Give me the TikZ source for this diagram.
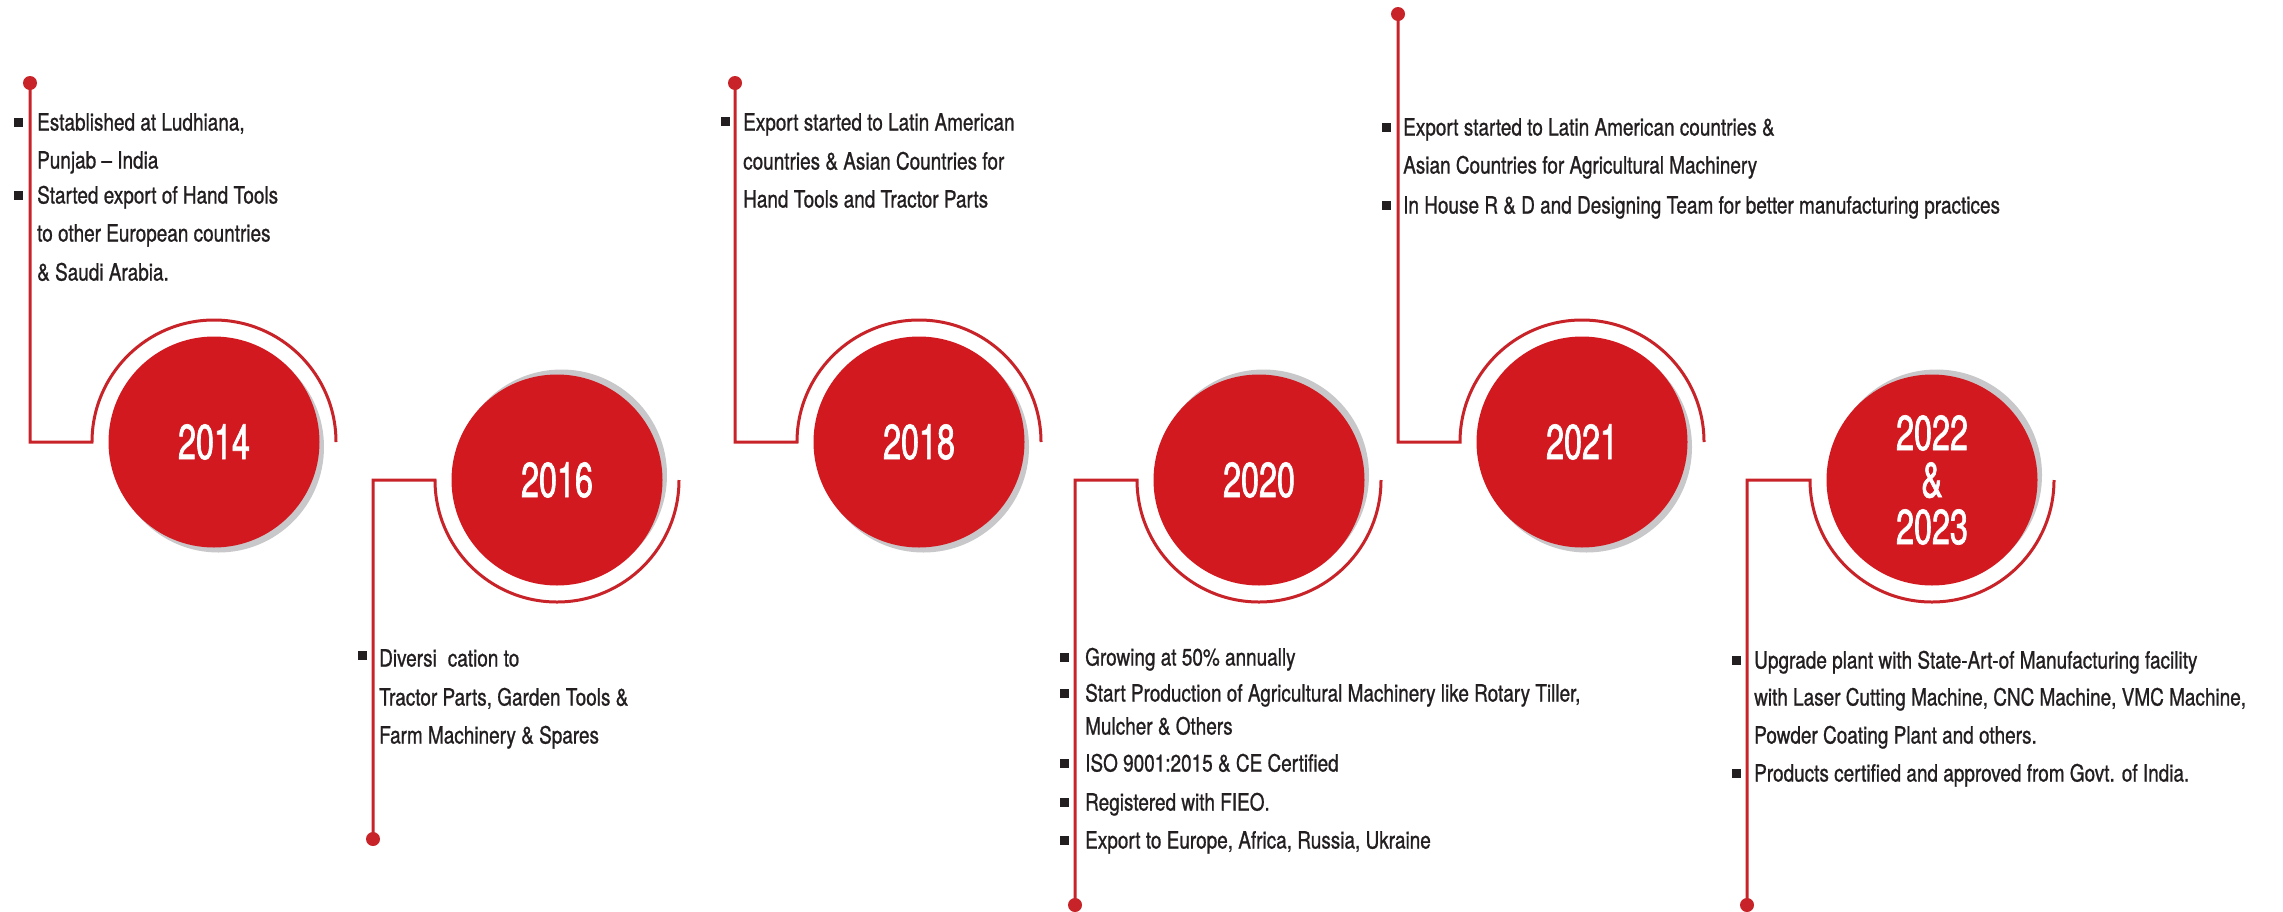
\documentclass[tikz,border=0pt]{standalone}
\usepackage{fontspec}
\setmainfont{TeX Gyre Heros}[FakeStretch=0.8,FakeBold=0.9]
\newfontfamily\yearfont{TeX Gyre Heros}[FakeStretch=0.66,FakeBold=1.4]
\definecolor{cred}{RGB}{211,25,32}
\definecolor{lred}{RGB}{200,35,40}
\definecolor{shad}{RGB}{200,200,202}
\definecolor{tgray}{RGB}{35,31,32}
\begin{document}
\begin{tikzpicture}[x=1pt,y=-1pt,
  tl/.style={draw=lred,line width=3pt},
  yc/.style={circle,fill=cred,minimum size=211pt,inner sep=0pt,text=white,align=center,
             font=\yearfont\fontsize{49}{47}\selectfont},
  sh/.style={circle,fill=shad,minimum size=211pt,inner sep=0pt},
  dotn/.style={circle,fill=lred,minimum size=14pt,inner sep=0pt},
  bul/.style={rectangle,fill=tgray,minimum size=9pt,inner sep=0pt},
  tx/.style={anchor=base west,inner sep=0pt,text=tgray,font=\fontsize{23.7}{28}\selectfont}]
\useasboundingbox[fill=white] (0,0) rectangle (2283,911);

% dots
\node[dotn] (d14) at (30,83) {};
\node[dotn] (d16) at (373,839) {};
\node[dotn] (d18) at (735,83) {};
\node[dotn] (d20) at (1075,905) {};
\node[dotn] (d21) at (1398,14) {};
\node[dotn] (d22) at (1747,905) {};

% shadows
\node[sh] (s14) at (218.5,447) {};
\node[sh] (s16) at (561.5,475) {};
\node[sh] (s18) at (923.5,447) {};
\node[sh] (s20) at (1263.5,475) {};
\node[sh] (s21) at (1586.5,447) {};
\node[sh] (s22) at (1936.5,475) {};

% year circles
\node[yc] (c14) at (214,442) {2014};
\node[yc] (c16) at (557,480) {2016};
\node[yc] (c18) at (919,442) {2018};
\node[yc] (c20) at (1259,480) {2020};
\node[yc] (c21) at (1582,442) {2021};
\node[yc] (c22) at (1932,480) {2022\\\&\\2023};

% connectors with arcs
\draw[tl] (d14.center) |- ([xshift=-122pt]c14.center) arc[start angle=180,end angle=0,radius=122pt];
\draw[tl] (d16.center) |- ([xshift=-122pt]c16.center) arc[start angle=180,end angle=360,radius=122pt];
\draw[tl] (d18.center) |- ([xshift=-122pt]c18.center) arc[start angle=180,end angle=0,radius=122pt];
\draw[tl] (d20.center) |- ([xshift=-122pt]c20.center) arc[start angle=180,end angle=360,radius=122pt];
\draw[tl] (d21.center) |- ([xshift=-122pt]c21.center) arc[start angle=180,end angle=0,radius=122pt];
\draw[tl] (d22.center) |- ([xshift=-122pt]c22.center) arc[start angle=180,end angle=360,radius=122pt];

% 2014 text
\node[bul] (b14a) at (18,122) {};
\node[bul] (b14b) at (18,195) {};
\node[tx] (t14a) at (37,130.5) {Established at Ludhiana,};
\node[tx] (t14b) at (37,168.5) {Punjab – India};
\node[tx] (t14c) at (37,203.5) {Started export of Hand Tools};
\node[tx] (t14d) at (37,241.5) {to other European countries};
\node[tx] (t14e) at (37,280.5) {\& Saudi Arabia.};

% 2016 text
\node[bul] (b16a) at (362,655) {};
\node[tx] (t16a) at (379,666.5) {Diversi\hspace{11pt}cation to};
\node[tx] (t16b) at (379,705.5) {Tractor Parts, Garden Tools \&};
\node[tx] (t16c) at (379,743.5) {Farm Machinery \& Spares};

% 2018 text
\node[bul] (b18a) at (725,121) {};
\node[tx] (t18a) at (743,130.5) {Export started to Latin American};
\node[tx] (t18b) at (743,169.5) {countries \& Asian Countries for};
\node[tx] (t18c) at (743,207.5) {Hand Tools and Tractor Parts};

% 2020 text
\node[bul] (b20a) at (1064,657) {};
\node[bul] (b20b) at (1064,693) {};
\node[bul] (b20c) at (1064,763) {};
\node[bul] (b20d) at (1064,802) {};
\node[bul] (b20e) at (1064,840) {};
\node[tx] (t20a) at (1085,665.5) {Growing at 50\% annually};
\node[tx] (t20b) at (1085,701.5) {Start Production of Agricultural Machinery like Rotary Tiller,};
\node[tx] (t20c) at (1085,734.5) {Mulcher \& Others};
\node[tx] (t20d) at (1085,771.5) {ISO 9001:2015 \& CE Certified};
\node[tx] (t20e) at (1085,810.5) {Registered with FIEO.};
\node[tx] (t20f) at (1085,848.5) {Export to Europe, Africa, Russia, Ukraine};

% 2021 text
\node[bul] (b21a) at (1386,127) {};
\node[bul] (b21b) at (1386,205) {};
\node[tx] (t21a) at (1403,135.5) {Export started to Latin American countries \&};
\node[tx] (t21b) at (1403,173.5) {Asian Countries for Agricultural Machinery};
\node[tx] (t21c) at (1403,213.5) {In House R \& D and Designing Team for better manufacturing practices};

% 2022-23 text
\node[bul] (b22a) at (1736,660) {};
\node[bul] (b22b) at (1736,773) {};
\node[tx] (t22a) at (1754,668.5) {Upgrade plant with State-Art-of Manufacturing facility};
\node[tx] (t22b) at (1754,705.5) {with Laser Cutting Machine, CNC Machine, VMC Machine,};
\node[tx] (t22c) at (1754,743.5) {Powder Coating Plant and others.};
\node[tx] (t22d) at (1754,781.5) {Products certified and approved from Govt. of India.};
\end{tikzpicture}
\end{document}
